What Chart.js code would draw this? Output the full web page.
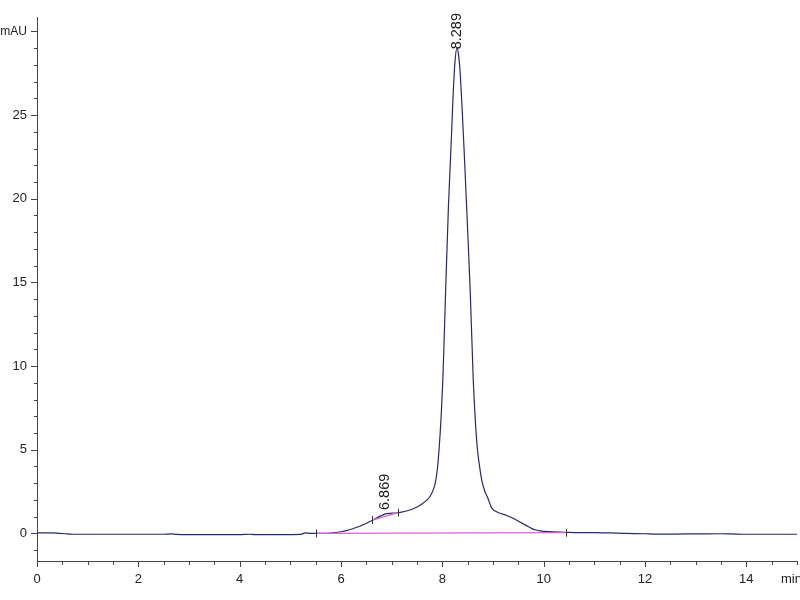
<!DOCTYPE html>
<html>
<head>
<meta charset="utf-8">
<script src="https://cdn.jsdelivr.net/npm/chart.js@4.4.1/dist/chart.umd.min.js"></script>
<style>
  body { margin: 0; background: #fff; }
  #wrap { width: 800px; height: 600px; }
</style>
</head>
<body>
<div id="wrap"><canvas id="chrom" width="800" height="600"></canvas></div>
<script>
// retention time (min) and detector signal (mAU)
const times = [0, 0.3, 0.45, 0.55, 0.7, 1.0, 1.5, 2.0, 2.5, 2.65, 2.75, 3.0, 3.5, 4.0, 4.2, 4.3, 4.8, 5.2, 5.3, 5.4,
  5.6, 5.8, 6.0, 6.17, 6.3, 6.44, 6.55, 6.64, 6.75, 6.84, 6.9, 6.97, 7.07, 7.17, 7.36, 7.5, 7.6, 7.7, 7.76, 7.82,
  7.86, 7.9, 7.94, 7.98, 8.01, 8.04, 8.07, 8.12, 8.17, 8.21, 8.25, 8.289, 8.32, 8.35, 8.39, 8.43, 8.49, 8.55, 8.61, 8.65,
  8.69, 8.74, 8.78, 8.84, 8.9, 8.96, 9.01, 9.08, 9.14, 9.27, 9.4, 9.53, 9.65, 9.76, 9.85, 9.93, 10.1, 10.32, 10.5, 10.8,
  11.0, 11.3, 11.6, 12.0, 12.2, 12.6, 13.0, 13.5, 13.7, 14.0, 14.5, 15.0];
const signal = [0.03, 0.03, 0.0, -0.02, -0.05, -0.05, -0.05, -0.05, -0.05, -0.03, -0.06, -0.07, -0.07, -0.07, -0.05, -0.07, -0.07, -0.06, 0.03, 0.0,
  0.0, 0.02, 0.1, 0.22, 0.35, 0.52, 0.68, 0.82, 1.0, 1.12, 1.18, 1.2, 1.22, 1.26, 1.4, 1.58, 1.76, 2.0, 2.22, 2.6,
  3.0, 3.8, 5.2, 7.2, 9.2, 12.0, 15.0, 19.5, 23.0, 26.0, 28.2, 29.0, 28.6, 27.6, 25.4, 22.9, 18.8, 14.5, 9.2, 6.8,
  5.1, 3.9, 3.15, 2.5, 2.1, 1.6, 1.4, 1.28, 1.2, 1.07, 0.9, 0.68, 0.48, 0.3, 0.2, 0.15, 0.1, 0.07, 0.06, 0.04,
  0.05, 0.03, 0.0, -0.02, -0.04, -0.04, -0.03, -0.02, -0.03, -0.05, -0.05, -0.05];

// integration baselines
const mainBaseTimes = [5.5, 10.45];
const mainBaseValues = [0.0, 0.04];
const smallBaseTimes = [6.62, 7.12];
const smallBaseValues = [0.8, 1.24];

// peak annotations
const peakTimes = [6.869, 8.289];
const peakHeights = [1.16, 29.0];
const peakLabels = ["6.869", "8.289"];

// axes
const xTickValues = [0, 2, 4, 6, 8, 10, 12, 14];
const xTickLabels = ["0", "2", "4", "6", "8", "10", "12", "14"];
const yTickValues = [0, 5, 10, 15, 20, 25, 30];
const yTickLabels = ["0", "5", "10", "15", "20", "25", "mAU"];
const xUnit = "min";

const toPoints = (xs, ys) => xs.map((x, i) => ({ x: x, y: ys[i] }));

const axisColor = "#444";
const textColor = "#222";
const family = "'Liberation Sans', Arial, sans-serif";
const font = { family: family, size: 13 };
const labelFont = "14.5px " + family;

// tick marks, unit label, peak labels and integration marks
const decorations = {
  id: "decorations",
  afterDraw(chart) {
    const ctx = chart.ctx;
    const xs = chart.scales.x;
    const ys = chart.scales.y;
    const area = chart.chartArea;
    ctx.save();
    ctx.strokeStyle = axisColor;
    ctx.lineWidth = 1;
    ctx.beginPath();
    for (let v = 0; v <= 15.001; v += 0.5) {
      const px = Math.round(xs.getPixelForValue(v)) + 0.5;
      const len = Math.abs(v % 2) < 1e-6 ? 6 : 4;
      ctx.moveTo(px, area.bottom);
      ctx.lineTo(px, area.bottom + len);
    }
    for (let v = -1; v <= 30; v += 1) {
      const py = Math.round(ys.getPixelForValue(v)) + 0.5;
      const len = v % 5 === 0 ? 6 : 3;
      ctx.moveTo(area.left, py);
      ctx.lineTo(area.left - len, py);
    }
    ctx.stroke();

    // unit label at the right end of the time axis
    ctx.fillStyle = textColor;
    ctx.font = font.size + "px " + family;
    ctx.textAlign = "left";
    ctx.textBaseline = "middle";
    ctx.fillText(xUnit, xs.getPixelForValue(15) - 16, area.bottom + 18);

    // integration start/end marks
    ctx.strokeStyle = "#333";
    ctx.beginPath();
    const marks = toPoints(mainBaseTimes.concat(smallBaseTimes), mainBaseValues.concat(smallBaseValues));
    marks.forEach((p) => {
      const px = Math.round(xs.getPixelForValue(p.x)) + 0.5;
      const py = ys.getPixelForValue(p.y);
      ctx.moveTo(px, py - 4);
      ctx.lineTo(px, py + 4);
    });
    ctx.stroke();

    // retention time labels, rotated
    ctx.fillStyle = textColor;
    ctx.font = labelFont;
    ctx.textBaseline = "middle";
    ctx.textAlign = "left";
    peakTimes.forEach((t, i) => {
      const px = xs.getPixelForValue(t);
      const py = ys.getPixelForValue(peakHeights[i]);
      const w = ctx.measureText(peakLabels[i]).width;
      let base = py - 4;
      if (base - w < 13) base = 13 + w;
      ctx.save();
      ctx.translate(px, base);
      ctx.rotate(-Math.PI / 2);
      ctx.fillText(peakLabels[i], 0, 0);
      ctx.restore();
    });
    ctx.restore();
  }
};

new Chart(document.getElementById("chrom").getContext("2d"), {
  type: "line",
  data: {
    datasets: [
      {
        label: "Main baseline",
        data: toPoints(mainBaseTimes, mainBaseValues),
        borderColor: "#d863d8",
        borderWidth: 1.3,
        pointRadius: 0,
        tension: 0
      },
      {
        label: "Peak baseline",
        data: toPoints(smallBaseTimes, smallBaseValues),
        borderColor: "#d863d8",
        borderWidth: 1.3,
        pointRadius: 0,
        tension: 0
      },
      {
        label: "Signal",
        data: toPoints(times, signal),
        borderColor: "#28286e",
        borderWidth: 1.2,
        pointRadius: 0,
        cubicInterpolationMode: "monotone"
      }
    ]
  },
  options: {
    responsive: false,
    animation: false,
    layout: { padding: { top: 15, right: 3, left: 0, bottom: 0 } },
    plugins: { legend: { display: false }, tooltip: { enabled: false } },
    scales: {
      x: {
        type: "linear",
        min: 0,
        max: 15,
        grid: { display: false, drawTicks: false },
        border: { display: true, color: axisColor, width: 1 },
        afterBuildTicks: (s) => { s.ticks = xTickValues.map((v) => ({ value: v })); },
        afterFit: (s) => { s.height = 39; },
        ticks: {
          autoSkip: false,
          maxRotation: 0,
          padding: 11,
          color: textColor,
          font: font,
          callback: (v) => xTickLabels[xTickValues.indexOf(v)]
        }
      },
      y: {
        type: "linear",
        min: -1.65,
        max: 30.85,
        grid: { display: false, drawTicks: false },
        border: { display: true, color: axisColor, width: 1 },
        afterBuildTicks: (s) => { s.ticks = yTickValues.map((v) => ({ value: v })); },
        afterFit: (s) => { s.width = 37; },
        ticks: {
          autoSkip: false,
          padding: 10,
          color: textColor,
          font: (c) => ({ family: family, size: c.tick && c.tick.value === 30 ? 12 : 13 }),
          callback: (v) => yTickLabels[yTickValues.indexOf(v)]
        }
      }
    }
  },
  plugins: [decorations]
});
</script>
</body>
</html>
